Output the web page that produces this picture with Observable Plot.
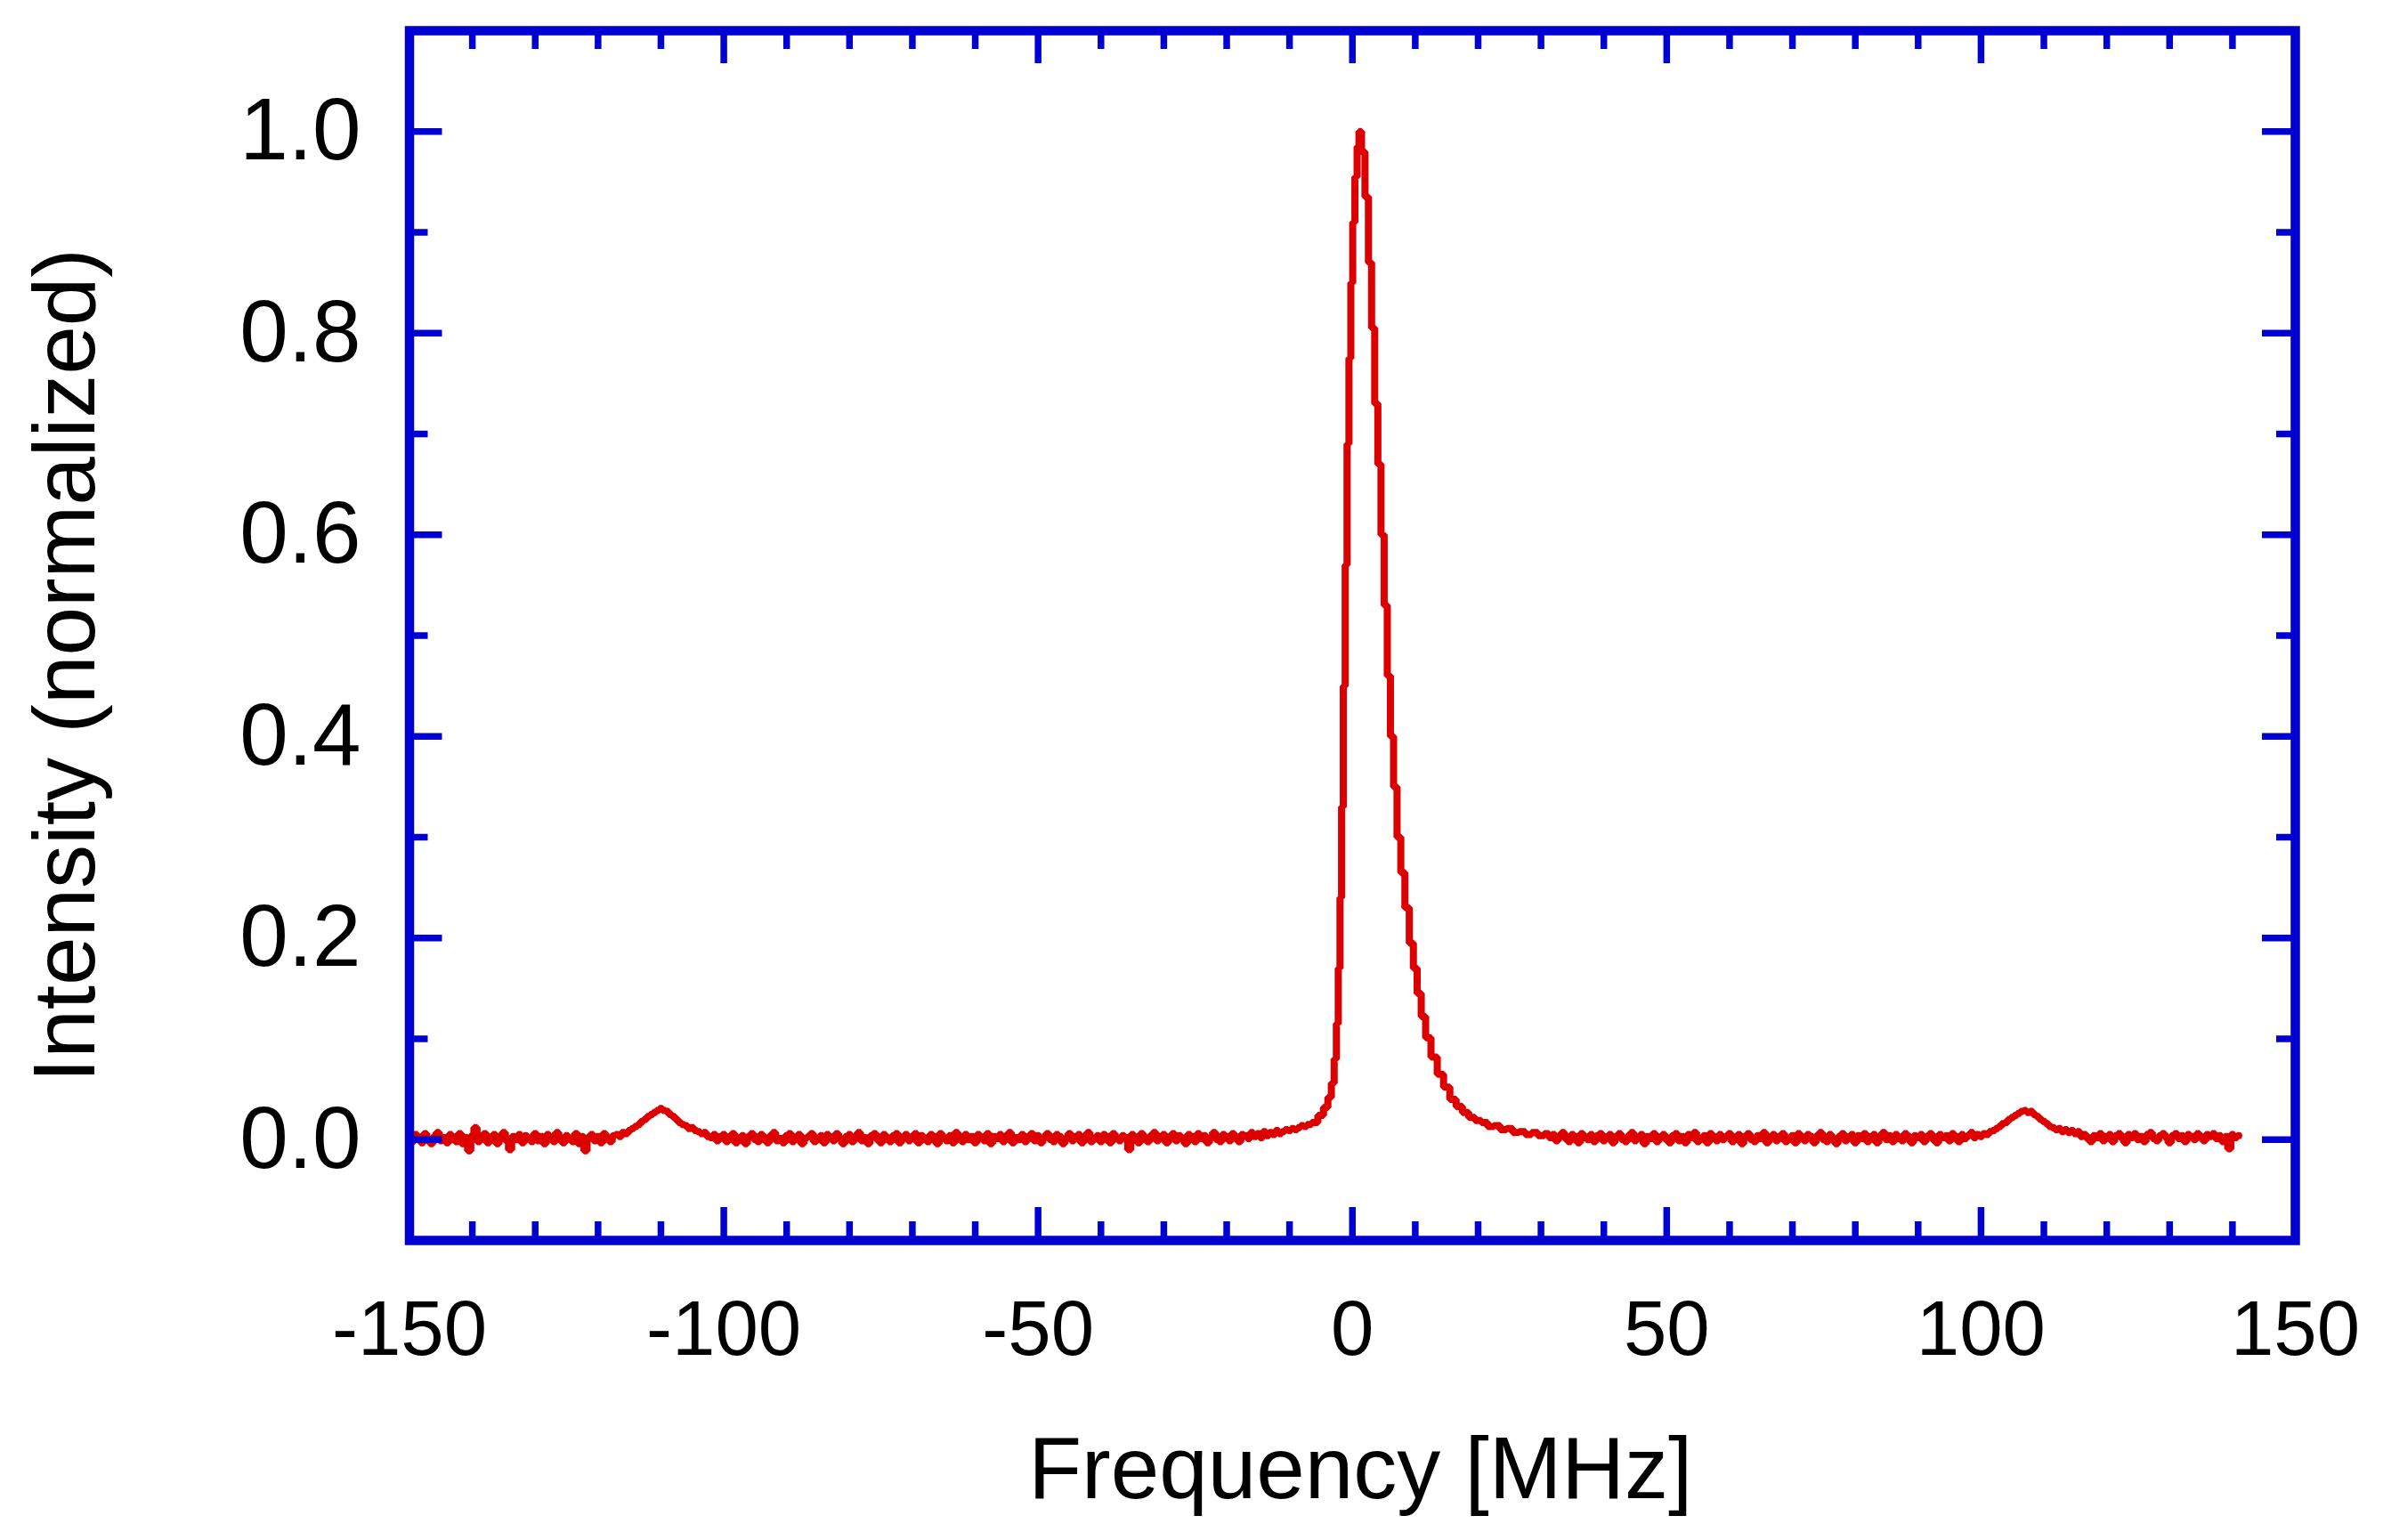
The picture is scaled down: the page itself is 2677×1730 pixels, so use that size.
<!DOCTYPE html>
<html><head><meta charset="utf-8">
<script src="https://cdn.jsdelivr.net/npm/d3@7"></script>
<script src="https://cdn.jsdelivr.net/npm/@observablehq/plot@0.6"></script>
<style>html,body{margin:0;padding:0;background:#fff;} svg{display:block;}</style>
</head><body><div id="chart"></div>
<script>
// Left baseline (incl. sideband near -110 MHz), sampled every 0.5 MHz from -150 to -7
const leftStart = -150, leftStep = 0.5;
const leftIntensity = [
  0.004,-0.002,0.005,0.000,-0.003,0.006,0.001,-0.004,0.003,0.007,-0.001,0.002,-0.003,0.005,0.000,-0.002,0.006,-0.004,0.002,-0.011,
  0.004,0.012,-0.002,0.003,0.006,-0.003,0.001,0.005,-0.004,0.002,0.007,-0.001,-0.010,0.003,0.000,0.005,-0.003,0.004,0.001,-0.002,
  0.006,-0.001,0.003,-0.004,0.005,0.002,-0.002,0.007,0.000,-0.003,0.004,0.001,-0.002,0.006,-0.004,0.003,-0.011,0.002,0.005,-0.001,
  0.003,-0.003,0.006,0.001,-0.002,0.004,0.005,0.003,0.007,0.006,0.009,0.011,0.013,0.015,0.018,0.020,0.023,0.025,0.027,0.029,
  0.031,0.029,0.028,0.025,0.023,0.020,0.017,0.015,0.014,0.011,0.012,0.009,0.008,0.006,0.007,0.003,0.002,0.005,-0.001,0.003,
  0.005,-0.002,0.002,0.006,-0.003,0.001,0.004,-0.004,0.003,0.006,0.000,-0.002,0.005,0.002,-0.003,0.004,0.007,-0.001,0.001,-0.003,
  0.004,0.006,-0.002,0.002,0.005,-0.004,0.001,0.003,0.006,-0.002,0.000,0.004,-0.003,0.005,0.002,-0.001,0.006,0.001,-0.004,0.003,
  0.005,-0.002,0.003,0.007,-0.001,0.002,-0.004,0.004,0.006,0.000,-0.003,0.005,0.002,-0.002,0.004,0.006,-0.003,0.001,0.005,-0.001,
  0.002,0.006,-0.003,0.004,0.000,-0.002,0.005,0.003,-0.004,0.006,0.001,-0.001,0.004,-0.003,0.007,0.002,-0.002,0.005,0.000,0.003,
  -0.003,0.005,0.002,-0.001,0.006,-0.004,0.003,0.001,0.005,-0.002,0.004,0.007,-0.003,0.002,0.000,0.005,-0.002,0.003,0.006,-0.001,
  0.004,-0.003,0.002,0.006,0.000,-0.002,0.005,0.003,-0.004,0.001,0.006,-0.001,0.003,0.005,-0.003,0.002,0.007,-0.002,0.001,0.004,
  -0.002,0.005,0.003,-0.003,0.006,0.001,-0.001,0.004,0.002,-0.010,0.005,0.000,-0.003,0.006,0.002,-0.002,0.004,0.007,-0.001,0.003,
  0.005,-0.003,0.002,0.006,-0.001,0.004,0.000,-0.004,0.005,0.003,-0.002,0.006,0.001,0.004,-0.003,0.002,0.007,0.000,-0.002,0.005,
  0.003,-0.001,0.006,0.002,-0.002,0.005,0.004,0.001,0.007,0.003,0.006,0.002,0.008,0.004,0.007,0.005,0.009,0.006,0.008,0.010,
  0.009,0.011,0.010,0.012,0.014,0.013,0.015
];
// Main peak (MHz, normalized intensity)
const peakFreq = [-6, -5, -4.2, -3.6, -3.1, -2.7, -2.4, -2.1, -1.85, -1.6,
  -1.3, -1.0, -0.7, -0.4, -0.1, 0.2, 0.6, 0.9, 1.2, 1.7,
  2.3, 2.8, 3.3, 3.8, 4.3, 4.8, 5.3, 5.8, 6.3, 6.8,
  7.4, 8.0, 8.7, 9.4, 10.0, 10.6, 11.3, 12, 13, 14,
  15, 16, 17, 18, 19, 20, 21, 22, 23, 24,
  25, 26, 27, 28, 29, 30];
const peakIntensity = [0.017, 0.024, 0.032, 0.042, 0.056, 0.080, 0.115, 0.170, 0.240, 0.330,
  0.450, 0.570, 0.690, 0.775, 0.850, 0.910, 0.955, 0.985, 1.000, 0.980,
  0.935, 0.870, 0.805, 0.730, 0.670, 0.600, 0.530, 0.460, 0.400, 0.350,
  0.300, 0.265, 0.230, 0.195, 0.170, 0.145, 0.122, 0.101, 0.082, 0.065,
  0.052, 0.040, 0.033, 0.027, 0.022, 0.019, 0.017, 0.013, 0.014, 0.010,
  0.011, 0.007, 0.008, 0.005, 0.007, 0.004];
// Right baseline (incl. sideband near +106 MHz), sampled every 0.5 MHz from 31 to 141
const rightStart = 31, rightStep = 0.5;
const rightIntensity = [
  0.006,0.002,0.005,-0.001,0.004,0.007,0.001,-0.002,0.005,0.003,-0.003,0.006,0.002,0.000,0.005,-0.002,0.004,0.006,-0.001,0.002,
  0.005,-0.003,0.003,0.006,0.000,-0.002,0.004,0.007,-0.001,0.002,0.005,-0.004,0.003,0.001,0.006,-0.002,0.002,0.005,0.000,-0.003,
  0.004,0.006,-0.001,0.003,-0.003,0.005,0.002,0.007,-0.002,0.001,0.004,-0.003,0.006,0.002,-0.001,0.005,0.000,0.003,0.006,-0.002,
  0.002,0.005,-0.004,0.003,0.006,0.000,-0.002,0.004,0.001,0.007,-0.003,0.002,0.005,-0.001,0.003,0.006,-0.002,0.001,0.004,-0.003,
  0.006,0.002,-0.001,0.005,0.003,-0.003,0.004,0.007,0.000,-0.002,0.005,0.001,-0.004,0.003,0.006,-0.001,0.002,0.005,-0.003,0.004,
  0.001,0.006,-0.002,0.003,0.005,-0.003,0.002,0.007,0.000,0.004,-0.002,0.005,0.001,-0.001,0.006,0.003,-0.003,0.004,0.002,0.005,
  -0.002,0.003,0.006,0.000,-0.003,0.005,0.002,0.004,-0.001,0.006,0.003,-0.002,0.005,0.001,0.004,0.007,0.002,0.005,0.003,0.006,
  0.005,0.008,0.009,0.011,0.013,0.016,0.017,0.020,0.022,0.024,0.026,0.028,0.029,0.027,0.028,0.025,0.023,0.020,0.018,0.016,
  0.013,0.012,0.010,0.011,0.008,0.010,0.007,0.009,0.006,0.008,0.003,0.005,0.001,-0.002,0.004,0.002,0.006,-0.001,0.003,0.005,
  -0.002,0.004,0.006,0.001,-0.003,0.005,0.002,0.006,0.000,0.003,-0.002,0.005,0.007,0.001,-0.001,0.004,0.006,0.002,-0.003,0.004,
  0.006,0.001,0.004,-0.002,0.005,0.003,0.000,0.006,0.002,-0.001,0.005,0.003,0.006,0.001,0.004,-0.002,0.003,-0.009,0.005,0.002,
  0.004
];
const xMajorTicks = [-150, -100, -50, 0, 50, 100, 150];
const xMinorTicks = [-140, -130, -120, -110, -90, -80, -70, -60, -40, -30, -20, -10,
  10, 20, 30, 40, 60, 70, 80, 90, 110, 120, 130, 140];
const yMajorTicks = [0, 0.2, 0.4, 0.6, 0.8, 1.0];
const yMinorTicks = [0.1, 0.3, 0.5, 0.7, 0.9];
const xLabel = "Frequency [MHz]";
const yLabel = "Intensity (normalized)";

const spectrum = [
  ...leftIntensity.map((v, i) => ({f: leftStart + i * leftStep, v})),
  ...peakFreq.map((f, i) => ({f, v: peakIntensity[i]})),
  ...rightIntensity.map((v, i) => ({f: rightStart + i * rightStep, v}))
];

const W = 2677, H = 1730;
const mL = 459.5, mR = 99, mT = 34, mB = 337;
const plotW = W - mL - mR, plotH = H - mT - mB;
const blue = "#0000d2", red = "#dd0000";
const font = "'Liberation Sans', Arial, Helvetica, sans-serif";
const fs = 98, fsX = 87;
const majorLen = 37, minorLen = 21, tickW = 7.5;

const tickMarks = (vals, len) => [
  Plot.ruleX(vals, {stroke: blue, strokeWidth: tickW, insetTop: plotH - len}),
  Plot.ruleX(vals, {stroke: blue, strokeWidth: tickW, insetBottom: plotH - len})
];
const tickMarksY = (vals, len) => [
  Plot.ruleY(vals, {stroke: blue, strokeWidth: tickW, insetRight: plotW - len}),
  Plot.ruleY(vals, {stroke: blue, strokeWidth: tickW, insetLeft: plotW - len})
];

const chart = Plot.plot({
  width: W, height: H,
  marginLeft: mL, marginRight: mR, marginTop: mT, marginBottom: mB,
  style: {fontFamily: font, fontSize: fs + "px", background: "#fff", color: "#000", overflow: "visible"},
  x: {domain: [-150, 150], label: null},
  y: {domain: [-0.1, 1.1], label: null},
  marks: [
    Plot.line(spectrum, {x: "f", y: "v", stroke: red, strokeWidth: 8, curve: "step", strokeLinejoin: "miter"}),
    ...tickMarks(xMajorTicks, majorLen),
    ...tickMarks(xMinorTicks, minorLen),
    ...tickMarksY(yMajorTicks, majorLen),
    ...tickMarksY(yMinorTicks, minorLen),
    Plot.frame({stroke: blue, strokeWidth: 10.5}),
    Plot.axisX(xMajorTicks, {anchor: "bottom", tickSize: 0, tickPadding: 67, tickFormat: d => String(d), fontSize: fsX, fill: "#000", label: null}),
    Plot.axisY(yMajorTicks, {anchor: "left", tickSize: 0, tickPadding: 54.5, tickFormat: d => d.toFixed(1), fontSize: fs, fill: "#000", label: null}),
    Plot.text([xLabel], {text: d => d, frameAnchor: "bottom", dx: 9, dy: 289, lineAnchor: "bottom", textAnchor: "middle", fontSize: fs, fill: "#000"}),
    Plot.text([yLabel], {text: d => d, frameAnchor: "left", rotate: -90, dx: -354.5, dy: 33.5, lineAnchor: "bottom", textAnchor: "middle", fontSize: fs, fill: "#000"})
  ]
});
document.getElementById("chart").append(chart);
</script>
</body></html>
